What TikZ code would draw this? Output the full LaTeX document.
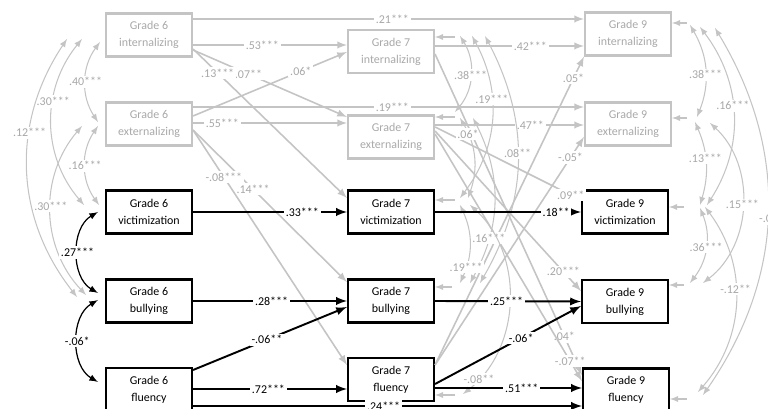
\documentclass[tikz,border=0pt]{standalone}
\usepackage{fontspec}
\setmainfont{Carlito}
\usepackage{tikz}
\usetikzlibrary{arrows,positioning}

\definecolor{lgr}{RGB}{196,196,196}
\definecolor{tgr}{RGB}{168,168,168}

\begin{document}
\begin{tikzpicture}[x=0.02cm,y=0.02cm,
    varbox/.style={
      draw,
      line width=1.2pt,
      minimum width=1.72cm,
      minimum height=0.86cm,
      inner sep=0pt,
      align=center,
      font=\fontsize{6.8}{9.6}\selectfont
    },
    grbox/.style={varbox,draw=lgr,text=tgr},
    bkbox/.style={varbox,draw=black},
    gpath/.style={draw=lgr,line width=0.9pt,-latex},
    bpath/.style={draw=black,line width=1.1pt,-latex},
    gres/.style={draw=lgr,line width=0.6pt,-latex},
    gcor/.style={draw=lgr,line width=0.6pt,latex-latex},
    bcor/.style={draw=black,line width=0.7pt,latex-latex},
    glab/.style={fill=white,inner sep=1pt,text=tgr,font=\fontsize{6.8}{8}\selectfont},
    blab/.style={glab,text=black}
    ]
    \useasboundingbox (0,0) rectangle (768,409);

    % grade 6
    \node[grbox] (g6int) at (149,374) {Grade 6\\internalizing};
    \node[grbox] (g6ext) at (149,285) {Grade 6\\externalizing};
    \node[bkbox] (g6vic) at (149,197) {Grade 6\\victimization};
    \node[bkbox] (g6bul) at (149,108) {Grade 6\\bullying};
    \node[bkbox] (g6flu) at (149,19.5) {Grade 6\\fluency};
    % grade 7
    \node[grbox] (g7int) at (391,357.5) {Grade 7\\internalizing};
    \node[grbox] (g7ext) at (391,272) {Grade 7\\externalizing};
    \node[bkbox] (g7vic) at (391,197) {Grade 7\\victimization};
    \node[bkbox] (g7bul) at (391,108) {Grade 7\\bullying};
    \node[bkbox] (g7flu) at (391,29.5) {Grade 7\\fluency};
    % grade 9
    \node[grbox] (g9int) at (628,375) {Grade 9\\internalizing};
    \node[grbox] (g9ext) at (628,285) {Grade 9\\externalizing};
    \node[bkbox] (g9vic) at (625,197) {Grade 9\\victimization};
    \node[bkbox] (g9bul) at (625,107.5) {Grade 9\\bullying};
    \node[bkbox] (g9flu) at (626,19) {Grade 9\\fluency};

    % grey paths 6 -> 7 -> 9
    \draw[gpath] (g6int.east |- 0,390) -- node[glab,pos=.51] {.21***} (g9int.west |- 0,390);
    \draw[gpath] (g6int.east |- 0,364) -- node[glab,pos=.45] {.53***} (g7int.west |- 0,364);
    \draw[gpath] (g6int.east |- 0,359) -- node[glab,pos=.36] {.07**} (g7ext.west |- 0,292);
    \draw[gpath] (g6int.east |- 0,360) -- node[glab,pos=.16] {.13***} (g7vic.west |- 0,211);
    \draw[gpath] (g6ext.east |- 0,293) -- node[glab,pos=.70] {.06*} (g7int.west |- 0,357);
    \draw[gpath] (g6ext.east |- 0,302) -- node[glab,pos=.51] {.19***} (g9ext.west |- 0,302);
    \draw[gpath] (g6ext.east |- 0,286) -- node[glab,pos=.19] {.55***} (g7ext.west |- 0,286);
    \draw[gpath] (g6ext.east |- 0,279) -- node[glab,pos=.39] {.14***} (g7bul.west |- 0,127);
    \draw[gpath] (g6ext.east |- 0,279) -- node[glab,pos=.2] {-.08***} (g7flu.west |- 0,44);
    \draw[gpath] (g7int.east |- 0,363) -- node[glab,pos=.64] {.42***} (g9int.west |- 0,363);
    \draw[gpath] (g7int.east |- 0,355) -- node[glab,pos=.88] {.04*} (g9flu.west |- 0,34);
    \draw[gpath] (g7ext.east |- 0,284) -- node[glab,pos=.64] {.47**} (g9ext.west |- 0,284);
    \draw[gpath] (g7ext.east |- 0,282) -- node[glab,pos=.93] {.09**} (g9vic.west |- 0,209);
    \draw[gpath] (g7ext.east |- 0,278) -- node[glab,pos=.88] {.20***} (g9bul.west |- 0,118);
    \draw[gpath] (g7ext.east |- 0,275) -- node[glab,pos=.92] {-.07**} (g9flu.west |- 0,28);
    \draw[gpath] (g7flu.east |- 0,44) -- node[glab,pos=.93] {.05*} (g9int.south west);
    \draw[gpath] (g7flu.east |- 0,44) -- node[glab,pos=.91] {-.05*} (g9ext.west |- 0,272);

    % residuals
    \coordinate (s7i) at (455,372); \coordinate (s7e) at (455,292);
    \coordinate (s7v) at (455,209); \coordinate (s7b) at (452,122);
    \coordinate (s7f) at (455,14);
    \coordinate (s9i) at (687,386); \coordinate (s9e) at (687,291);
    \coordinate (s9v) at (684,202); \coordinate (s9b) at (684,124);
    \coordinate (s9f) at (687,10);
    \draw[gres] (s7i) -- (g7int.east |- s7i);
    \draw[gres] (s7e) -- (g7ext.east |- s7e);
    \draw[gres] (s7v) -- (g7vic.east |- s7v);
    \draw[gres] (s7b) -- (g7bul.east |- s7b);
    \draw[gres] (s7f) -- (g7flu.east |- s7f);
    \draw[gres] (s9i) -- (g9int.east |- s9i);
    \draw[gres] (s9e) -- (g9ext.east |- s9e);
    \draw[gres] (s9v) -- (g9vic.east |- s9v);
    \draw[gres] (s9b) -- (g9bul.east |- s9b);
    \draw[gres] (s9f) -- (g9flu.east |- s9f);

    % grade 6 correlations
    \coordinate (c6a1) at (100,367); \coordinate (c6a2) at (98,287);
    \coordinate (c6b1) at (82,370);  \coordinate (c6b2) at (84,204);
    \coordinate (c6c1) at (67,370);  \coordinate (c6c2) at (77,112);
    \coordinate (c6d1) at (98,283);  \coordinate (c6d2) at (99,204);
    \coordinate (c6e1) at (82,283);  \coordinate (c6e2) at (86,114);
    \draw[gcor] (c6a1) to[bend right=35] node[glab] {.40***} (c6a2);
    \draw[gcor] (c6b1) to[bend right=40] node[glab,pos=.38] {.30***} (c6b2);
    \draw[gcor] (c6c1) to[bend right=36] node[glab,pos=.36] {.12***} (c6c2);
    \draw[gcor] (c6d1) to[bend right=35] node[glab] {.16***} (c6d2);
    \draw[gcor] (c6e1) to[bend right=42] node[glab,pos=.47] {.30***} (c6e2);

    % grade 7 correlations
    \coordinate (c7a1) at (460,373); \coordinate (c7a2) at (455,297);
    \coordinate (c7b1) at (472,373); \coordinate (c7b2) at (460,211);
    \coordinate (c7c1) at (485,373); \coordinate (c7c2) at (480,126);
    \coordinate (c7d1) at (460,291); \coordinate (c7d2) at (468,211);
    \coordinate (c7e1) at (473,291); \coordinate (c7e2) at (470,126);
    \coordinate (c7f1) at (460,204); \coordinate (c7f2) at (460,126);
    \coordinate (c7g1) at (470,204); \coordinate (c7g2) at (463,15);
    \draw[gcor] (c7a1) to[bend left=36] node[glab] {.38***} (c7a2);
    \draw[gcor] (c7b1) to[bend left=33] node[glab,pos=.38] {.19***} (c7b2);
    \draw[gcor] (c7c1) to[bend left=29] node[glab,pos=.47] {.08**} (c7c2);
    \draw[gcor] (c7d1) to[bend left=25] node[glab,pos=.2] {.06*} (c7d2);
    \draw[gcor] (c7e1) to[bend left=28] node[glab,pos=.73] {.16***} (c7e2);
    \draw[gcor] (c7f1) to[bend left=25] node[glab,pos=.8] {.19***} (c7f2);
    \draw[gcor] (c7g1) to[bend left=50] node[glab,pos=.9] {-.08**} (c7g2);

    % grade 9 correlations
    \coordinate (c9a1) at (690,384); \coordinate (c9a2) at (697,292);
    \coordinate (c9b1) at (700,382); \coordinate (c9b2) at (707,204);
    \coordinate (c9c1) at (715,381); \coordinate (c9c2) at (703,14);
    \coordinate (c9d1) at (695,287); \coordinate (c9d2) at (700,204);
    \coordinate (c9e1) at (710,286); \coordinate (c9e2) at (703,126);
    \coordinate (c9f1) at (700,201); \coordinate (c9f2) at (690,126);
    \coordinate (c9g1) at (705,202); \coordinate (c9g2) at (698,17);
    \draw[gcor] (c9a1) to[bend left=26] node[glab,pos=.55] {.38***} (c9a2);
    \draw[gcor] (c9b1) to[bend left=35] node[glab,pos=.45] {.16***} (c9b2);
    \draw[gcor] (c9c1) to[bend left=33] (c9c2);
    \draw[gcor] (c9d1) to[bend left=20] node[glab,pos=.44] {.13***} (c9d2);
    \draw[gcor] (c9e1) to[bend left=50] node[glab] {.15***} (c9e2);
    \draw[gcor] (c9f1) to[bend left=30] node[glab] {.36***} (c9f2);
    \draw[gcor] (c9g1) to[bend left=39] node[glab,pos=.44] {-.12**} (c9g2);
    \node[glab,anchor=west] (cut) at (757,190) {-.0};

    % black paths
    \draw[bpath] (g6vic.east) -- node[blab,pos=.71] {.33***} (g7vic.west);
    \draw[bpath] (g7vic.east) -- node[blab,pos=.83] {.18**} (g9vic.west);
    \draw[bpath] (g6bul.east) -- node[blab,pos=.51] {.28***} (g7bul.west);
    \draw[bpath] (g7bul.east) -- node[blab,pos=.49] {.25***} (g9bul.west);
    \draw[bpath] (g6flu.east |- 0,39) -- node[blab,pos=.48] {-.06**} (g7bul.west |- 0,102);
    \draw[bpath] (g6flu.east |- 0,20) -- node[blab,pos=.49] {.72***} (g7flu.west |- 0,20);
    \draw[bpath] (g7flu.east |- 0,25) -- node[blab,pos=.59] {-.06*} (g9bul.west |- 0,103);
    \draw[bpath] (g7flu.east |- 0,21) -- node[blab,pos=.59] {.51***} (g9flu.west |- 0,21);
    \draw[bpath] (g6flu.east |- 0,3) -- node[blab,pos=.49] {.24***} (g9flu.west |- 0,3);

    % black correlations
    \coordinate (c6f1) at (98,197); \coordinate (c6f2) at (98,116);
    \coordinate (c6g1) at (98,109); \coordinate (c6g2) at (98,27);
    \draw[bcor] (c6f1) to[bend right=60] node[blab] {.27***} (c6f2);
    \draw[bcor] (c6g1) to[bend right=60] node[blab] {-.06*} (c6g2);
\end{tikzpicture}
\end{document}
